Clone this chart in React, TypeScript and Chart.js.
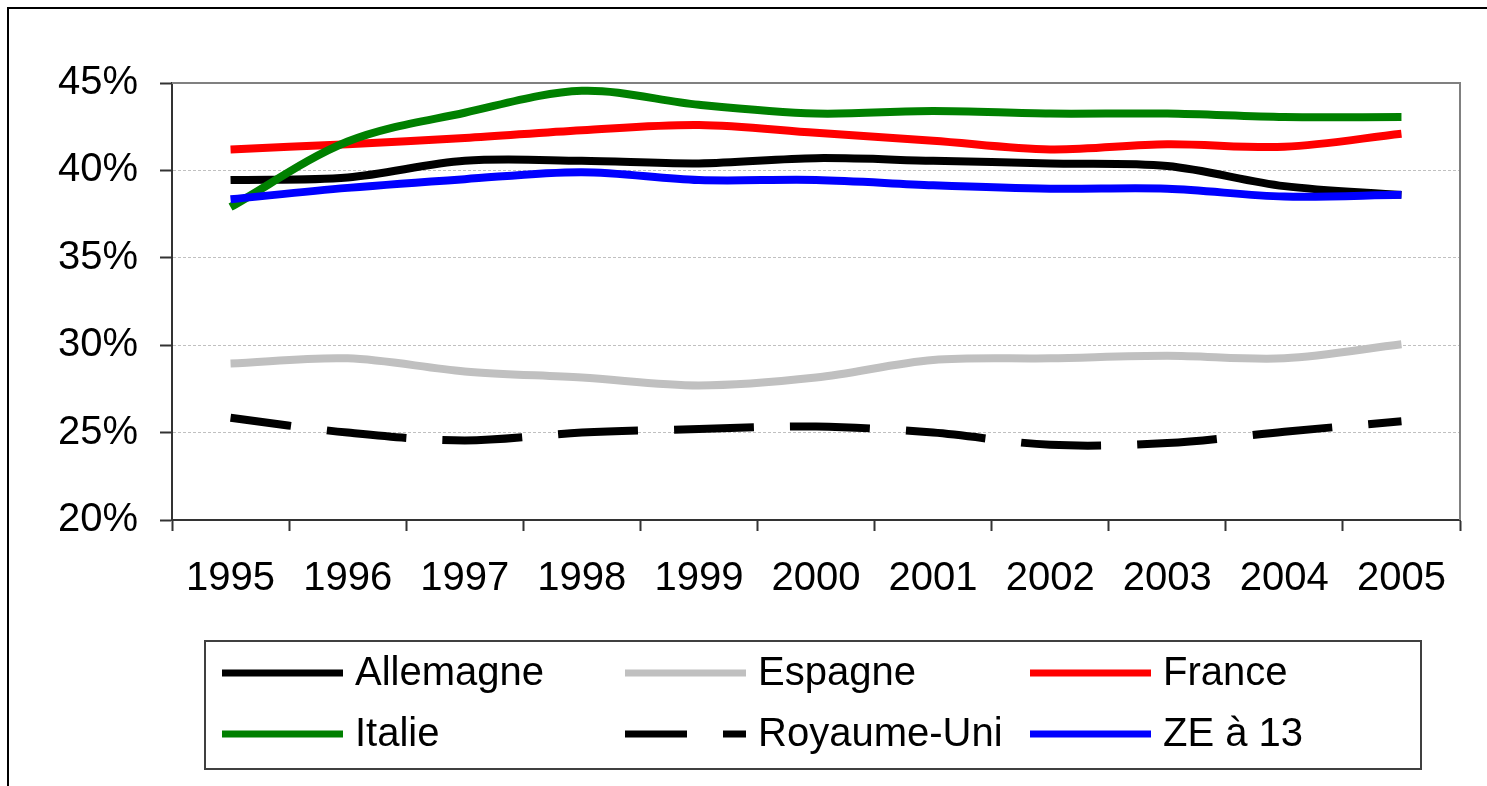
import React, { useEffect, useRef } from "react";
import { Chart, registerables } from "chart.js";

Chart.register(...registerables);

const years = ["1995", "1996", "1997", "1998", "1999", "2000", "2001", "2002", "2003", "2004", "2005"];
const allemagne = [39.45, 39.6, 40.55, 40.55, 40.4, 40.7, 40.55, 40.4, 40.25, 39.1, 38.6];
const espagne = [28.95, 29.25, 28.5, 28.15, 27.7, 28.15, 29.15, 29.25, 29.4, 29.25, 30.05];
const france = [41.2, 41.5, 41.85, 42.3, 42.6, 42.15, 41.7, 41.2, 41.5, 41.35, 42.1];
const italie = [37.9, 41.65, 43.3, 44.55, 43.75, 43.25, 43.4, 43.25, 43.25, 43.05, 43.05];
const royaumeUni = [25.85, 25.0, 24.55, 25.0, 25.2, 25.35, 25.0, 24.3, 24.4, 25.05, 25.65];
const ze13 = [38.35, 39.0, 39.5, 39.9, 39.45, 39.45, 39.15, 38.95, 38.95, 38.5, 38.6];
const yTicks = [20, 25, 30, 35, 40, 45];

const FONT = '"Liberation Sans", Arial, sans-serif';

export default function App() {
  const ref = useRef<HTMLCanvasElement>(null);

  useEffect(() => {
    if (!ref.current) return;

    const series = [
      { label: "Allemagne", data: allemagne, color: "#000000", dash: [] as number[] },
      { label: "Espagne", data: espagne, color: "#c0c0c0", dash: [] as number[] },
      { label: "France", data: france, color: "#ff0000", dash: [] as number[] },
      { label: "Italie", data: italie, color: "#008000", dash: [] as number[] },
      { label: "Royaume-Uni", data: royaumeUni, color: "#000000", dash: [80, 36] },
      { label: "ZE à 13", data: ze13, color: "#0000ff", dash: [] as number[] },
    ];

    const framePlugin = {
      id: "frame",
      beforeDatasetsDraw(chart: any) {
        const { ctx, chartArea: a } = chart;
        ctx.save();
        ctx.strokeStyle = "#808080";
        ctx.lineWidth = 2;
        ctx.beginPath();
        ctx.moveTo(a.left, a.top);
        ctx.lineTo(a.right, a.top);
        ctx.lineTo(a.right, a.bottom);
        ctx.stroke();
        ctx.restore();
      },
      afterDraw(chart: any) {
        const { ctx } = chart;
        ctx.save();
        // outer frame (top & left)
        ctx.strokeStyle = "#000";
        ctx.lineWidth = 2;
        ctx.beginPath();
        ctx.moveTo(8, 800);
        ctx.lineTo(8, 8);
        ctx.lineTo(1500, 8);
        ctx.stroke();

        // legend box
        ctx.strokeStyle = "#404040";
        ctx.lineWidth = 2;
        ctx.strokeRect(205, 641, 1216, 128);

        const cols = [222, 625, 1030];
        const rows = [673, 734];
        chart.data.datasets.forEach((ds: any, i: number) => {
          const x = cols[i % 3];
          const y = rows[Math.floor(i / 3)];
          ctx.save();
          ctx.strokeStyle = ds.borderColor;
          ctx.lineWidth = 7;
          ctx.lineCap = "butt";
          ctx.setLineDash(ds.borderDash || []);
          ctx.lineDashOffset = 18;
          ctx.beginPath();
          ctx.moveTo(x, y);
          ctx.lineTo(x + 121, y);
          ctx.stroke();
          ctx.restore();
          ctx.fillStyle = "#000";
          ctx.font = `40px ${FONT}`;
          ctx.textBaseline = "middle";
          ctx.textAlign = "left";
          ctx.fillText(ds.label, x + 133, y + 1);
        });
        ctx.restore();
      },
    };

    const chart = new Chart(ref.current, {
      type: "line",
      data: {
        labels: years,
        datasets: series.map((s, i) => ({
          label: s.label,
          data: s.data,
          borderColor: s.color,
          backgroundColor: s.color,
          borderWidth: 8,
          borderDash: s.dash,
          borderDashOffset: 19,
          borderCapStyle: "butt",
          borderJoinStyle: "round",
          pointRadius: 0,
          pointHoverRadius: 0,
          tension: 0.33,
          fill: false,
          order: series.length - 1 - i,
        })),
      },
      options: {
        responsive: false,
        animation: false,
        devicePixelRatio: 1,
        events: [],
        layout: { padding: { left: 0, top: 83, right: 27, bottom: 0 } },
        plugins: {
          legend: { display: false },
          tooltip: { enabled: false },
          title: { display: false },
        },
        scales: {
          x: {
            type: "category",
            offset: true,
            afterFit(scale: any) {
              scale.height = 266;
            },
            grid: {
              offset: true,
              drawOnChartArea: false,
              drawTicks: true,
              tickLength: 11,
              tickColor: "#333",
              tickWidth: 2,
            },
            border: { display: true, color: "#333", width: 2 },
            ticks: {
              color: "#000",
              font: { family: FONT, size: 40 },
              padding: 24,
              maxRotation: 0,
              autoSkip: false,
            },
          },
          y: {
            min: 20,
            max: 45,
            afterFit(scale: any) {
              scale.width = 172;
            },
            afterBuildTicks(scale: any) {
              scale.ticks = yTicks.map((v) => ({ value: v }));
            },
            grid: {
              color: (c: any) =>
                c.tick && (c.tick.value === 20 || c.tick.value === 45) ? "rgba(0,0,0,0)" : "#c0c0c0",
              lineWidth: 1,
              drawTicks: true,
              tickLength: 12,
              tickColor: "#333",
              tickWidth: 2,
            },
            border: { display: true, color: "#333", width: 2, dash: [3, 2] },
            ticks: {
              color: "#000",
              font: { family: FONT, size: 40 },
              padding: 22,
              callback: (v: any) => `${v}%`,
            },
          },
        },
      },
      plugins: [framePlugin],
    } as any);

    return () => chart.destroy();
  }, []);

  return (
    <canvas
      ref={ref}
      width={1487}
      height={786}
      style={{ position: "fixed", left: 0, top: 0, width: 1487, height: 786, background: "#fff" }}
    />
  );
}
